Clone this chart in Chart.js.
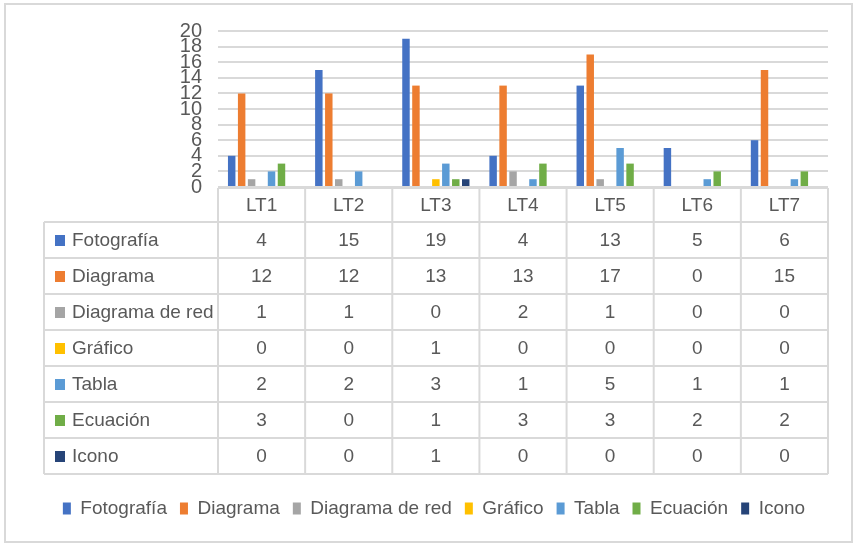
<!DOCTYPE html>
<html><head><meta charset="utf-8">
<script src="https://cdn.jsdelivr.net/npm/chart.js@4"></script>
<style>html,body{margin:0;padding:0;background:#fff}canvas{display:block}</style>
</head><body>
<canvas id="c" width="862" height="551"></canvas>
<script>
const categories = ['LT1', 'LT2', 'LT3', 'LT4', 'LT5', 'LT6', 'LT7'];
const fotografia    = [4, 15, 19, 4, 13, 5, 6];
const diagrama      = [12, 12, 13, 13, 17, 0, 15];
const diagramaDeRed = [1, 1, 0, 2, 1, 0, 0];
const grafico       = [0, 0, 1, 0, 0, 0, 0];
const tabla         = [2, 2, 3, 1, 5, 1, 1];
const ecuacion      = [3, 0, 1, 3, 3, 2, 2];
const icono         = [0, 0, 1, 0, 0, 0, 0];
const seriesNames = ['Fotografía', 'Diagrama', 'Diagrama de red', 'Gráfico', 'Tabla', 'Ecuación', 'Icono'];
const seriesValues = [fotografia, diagrama, diagramaDeRed, grafico, tabla, ecuacion, icono];
const yMin = 0, yMax = 20, yStep = 2;

const colors = ['#4472C4', '#ED7D31', '#A5A5A5', '#FFC000', '#5B9BD5', '#70AD47', '#264478'];
const FONT = "'Liberation Sans', Arial, sans-serif";
const TEXT = '#595959';
const LINE = '#d9d9d9';

const datasets = seriesNames.map((name, i) => ({
  label: name,
  data: seriesValues[i],
  backgroundColor: colors[i],
  borderColor: colors[i],
  borderWidth: 0,
  categoryPercentage: 0.8,
  barPercentage: 0.75
}));

const frame = {
  id: 'frame',
  beforeDraw(chart) {
    const ctx = chart.ctx;
    ctx.save();
    ctx.fillStyle = '#fff';
    ctx.fillRect(0, 0, chart.width, chart.height);
    ctx.strokeStyle = LINE;
    ctx.lineWidth = 2;
    ctx.strokeRect(5, 4, 847, 538);
    ctx.restore();
  }
};

const dataTable = {
  id: 'dataTable',
  afterDraw(chart) {
    const ctx = chart.ctx;
    const xs = chart.scales.x;
    const n = categories.length;
    const colW = (xs.right - xs.left) / n;
    const top = chart.chartArea.bottom + 1;
    const headerH = 34, rowH = 36, left = 44;
    const rows = seriesNames.length;
    const bottom = top + headerH + rowH * rows;
    ctx.save();
    ctx.strokeStyle = LINE;
    ctx.lineWidth = 2;
    ctx.beginPath();
    ctx.moveTo(xs.left, top); ctx.lineTo(xs.right, top);
    for (let r = 0; r <= rows; r++) {
      const y = top + headerH + r * rowH;
      ctx.moveTo(left, y); ctx.lineTo(xs.right, y);
    }
    for (let i = 0; i <= n; i++) {
      const x = xs.left + i * colW;
      ctx.moveTo(x, top); ctx.lineTo(x, bottom);
    }
    ctx.moveTo(left, top + headerH); ctx.lineTo(left, bottom);
    ctx.stroke();

    ctx.font = '19px ' + FONT;
    ctx.fillStyle = TEXT;
    ctx.textBaseline = 'middle';
    ctx.textAlign = 'center';
    categories.forEach((c, i) => {
      ctx.fillText(c, xs.getPixelForValue(i), top + headerH / 2 + 1);
    });
    seriesNames.forEach((name, r) => {
      const cy = top + headerH + r * rowH + rowH / 2 + 1;
      ctx.fillStyle = colors[r];
      ctx.fillRect(55, cy - 6, 10, 11);
      ctx.fillStyle = TEXT;
      ctx.textAlign = 'left';
      ctx.fillText(name, 72, cy);
      ctx.textAlign = 'center';
      seriesValues[r].forEach((v, i) => {
        ctx.fillText(String(v), xs.getPixelForValue(i), cy);
      });
    });
    ctx.restore();
  }
};

new Chart(document.getElementById('c'), {
  type: 'bar',
  data: { labels: categories, datasets },
  plugins: [frame, dataTable],
  options: {
    responsive: false,
    animation: false,
    events: [],
    layout: { padding: { top: 31, right: 0, bottom: 23, left: 6 } },
    plugins: {
      tooltip: { enabled: false },
      legend: {
        position: 'bottom',
        labels: {
          color: TEXT,
          font: { family: FONT, size: 19 },
          boxWidth: 8,
          boxHeight: 12,
          padding: 13
        }
      }
    },
    scales: {
      x: {
        grid: { display: false },
        border: { display: false },
        ticks: { display: false },
        afterFit(scale) { scale.height = 299; }
      },
      y: {
        min: yMin, max: yMax,
        grid: { color: LINE, lineWidth: 2, drawTicks: false },
        border: { display: false },
        ticks: {
          stepSize: yStep, autoSkip: false, padding: 16, color: TEXT,
          font: { family: FONT, size: 20, lineHeight: 0.8 }
        },
        afterFit(scale) { scale.width = 212; }
      },
      yRight: {
        type: 'linear',
        position: 'right',
        display: true,
        grid: { display: false },
        border: { display: false },
        ticks: { display: false },
        afterFit(scale) { scale.width = 34; }
      }
    }
  }
});
</script>
</body></html>
